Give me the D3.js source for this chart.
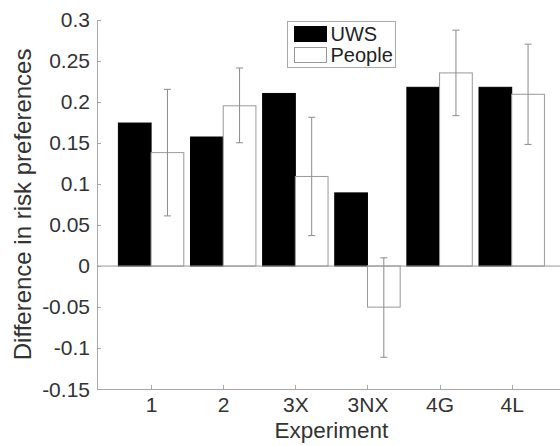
<!DOCTYPE html>
<html>
<head>
    <title>Difference in risk preferences</title>
    <script src="https://cdnjs.cloudflare.com/ajax/libs/d3/7.8.5/d3.min.js"></script>
    <style>
        body { margin: 0; background: #fff; }
        svg { font-family: "Liberation Sans", Arial, Helvetica, sans-serif; }
        .axis path, .axis line { stroke: #a8a8a8; stroke-width: 1px; shape-rendering: crispEdges; }
        .axis text { fill: #333; font-size: 21px; font-family: "Liberation Sans", Arial, sans-serif; }
    </style>
</head>
<body>
    <div id="chart"></div>
    <script>
        // Data
        const categories = ["1", "2", "3X", "3NX", "4G", "4L"];
        const seriesNames = ["UWS", "People"];
        const uwsValues = [0.174, 0.157, 0.210, 0.089, 0.2175, 0.2175];
        const peopleValues = [0.138, 0.195, 0.109, -0.050, 0.235, 0.209];
        const peopleErrLow = [0.061, 0.150, 0.037, -0.111, 0.183, 0.148];
        const peopleErrHigh = [0.215, 0.241, 0.181, 0.010, 0.287, 0.270];
        const yTicks = [-0.15, -0.1, -0.05, 0, 0.05, 0.1, 0.15, 0.2, 0.25, 0.3];

        const W = 560, H = 446;
        const plot = {left: 97, top: 19.5, right: 565.8, bottom: 389.3};

        const svg = d3.select("#chart")
            .append("svg")
                .attr("width", W)
                .attr("height", H);

        // x is in "experiment index" units, like a MATLAB bar plot
        const x = d3.scaleLinear().domain([0.25, 6.75]).range([plot.left, plot.right]);
        const y = d3.scaleLinear().domain([-0.15, 0.3]).range([plot.bottom, plot.top]);

        const barW = 0.4535;
        const offsets = [-barW / 2, barW / 2];

        const rows = categories.map((c, i) => ({
            cat: c, pos: i + 1,
            uws: uwsValues[i], people: peopleValues[i],
            lo: peopleErrLow[i], hi: peopleErrHigh[i]
        }));

        // UWS bars (black)
        svg.append("g").selectAll("rect")
            .data(rows)
            .join("rect")
                .attr("x", d => x(d.pos + offsets[0] - barW / 2))
                .attr("width", d => x(barW) - x(0))
                .attr("y", d => y(Math.max(0, d.uws)))
                .attr("height", d => Math.abs(y(d.uws) - y(0)))
                .attr("fill", "#000")
                .attr("stroke", "#000");

        // People bars (white, grey edge)
        svg.append("g").selectAll("rect")
            .data(rows)
            .join("rect")
                .attr("x", d => x(d.pos + offsets[1] - barW / 2))
                .attr("width", d => x(barW) - x(0))
                .attr("y", d => y(Math.max(0, d.people)))
                .attr("height", d => Math.abs(y(d.people) - y(0)))
                .attr("fill", "#fff")
                .attr("stroke", "#999");

        // Baseline at zero
        svg.append("line")
            .attr("x1", plot.left).attr("x2", W)
            .attr("y1", y(0)).attr("y2", y(0))
            .attr("stroke", "#999");

        // Error bars on People
        const err = svg.append("g").attr("stroke", "#8a8a8a").attr("fill", "none");
        const capW = 3.5;
        rows.forEach(d => {
            const cx = x(d.pos + offsets[1]);
            err.append("line").attr("x1", cx).attr("x2", cx).attr("y1", y(d.lo)).attr("y2", y(d.hi));
            err.append("line").attr("x1", cx - capW).attr("x2", cx + capW).attr("y1", y(d.lo)).attr("y2", y(d.lo));
            err.append("line").attr("x1", cx - capW).attr("x2", cx + capW).attr("y1", y(d.hi)).attr("y2", y(d.hi));
        });

        // Axes
        svg.append("g")
            .attr("class", "axis")
            .attr("transform", `translate(${plot.left},0)`)
            .call(d3.axisLeft(y)
                .tickValues(yTicks)
                .tickFormat(d => String(+d.toFixed(2)))
                .tickSizeInner(-4)
                .tickSizeOuter(0)
                .tickPadding(7));

        svg.append("g")
            .attr("class", "axis")
            .attr("transform", `translate(0,${plot.bottom})`)
            .call(d3.axisBottom(x)
                .tickValues(rows.map(d => d.pos))
                .tickFormat((d, i) => categories[i])
                .tickSizeInner(-4)
                .tickSizeOuter(0)
                .tickPadding(8));

        // Axis labels
        svg.append("text")
            .attr("x", (plot.left + plot.right) / 2)
            .attr("y", 438)
            .attr("text-anchor", "middle")
            .attr("fill", "#333")
            .style("font-size", "22.5px")
            .text("Experiment");

        svg.append("text")
            .attr("transform", `translate(31,${(plot.top + plot.bottom) / 2}) rotate(-90)`)
            .attr("text-anchor", "middle")
            .attr("fill", "#333")
            .style("font-size", "24px")
            .text("Difference in risk preferences");

        // Legend
        const legend = svg.append("g").attr("transform", "translate(287.5,21.5)");
        legend.append("rect")
            .attr("width", 108).attr("height", 46)
            .attr("fill", "#fff").attr("stroke", "#aaa");
        const swatchFill = ["#000", "#fff"];
        const swatchStroke = ["#000", "#999"];
        seriesNames.forEach((name, i) => {
            legend.append("rect")
                .attr("x", 7).attr("y", 5 + i * 21)
                .attr("width", 32).attr("height", 15)
                .attr("fill", swatchFill[i]).attr("stroke", swatchStroke[i]);
            legend.append("text")
                .attr("x", 43).attr("y", 19.5 + i * 21)
                .attr("fill", "#222")
                .style("font-size", "20px")
                .text(name);
        });
    </script>
</body>
</html>
